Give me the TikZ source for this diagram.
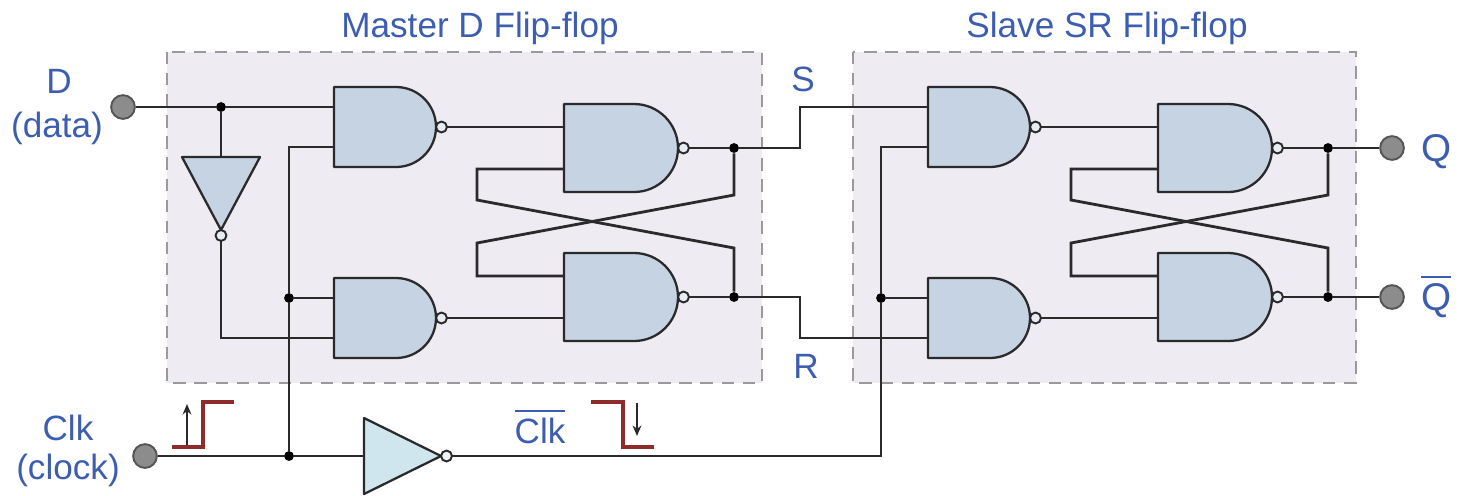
\documentclass[tikz,border=0pt]{standalone}
\usepackage{fontspec}
\setmainfont{Liberation Sans}
\usetikzlibrary{arrows.meta}
\definecolor{lbl}{HTML}{3C5DB0}
\definecolor{boxfill}{HTML}{EEEBF3}
\definecolor{boxline}{HTML}{9A9A9A}
\definecolor{gatefill}{HTML}{C5D3E3}
\definecolor{invfill}{HTML}{CFE6EE}
\definecolor{wire}{HTML}{2A2A2A}
\definecolor{edgecol}{HTML}{8E2B2B}
\definecolor{termfill}{HTML}{8C8C8C}
\newcommand{\barlabel}[1]{\mbox{\vbox{\hrule height 1.1pt\kern 3pt\hbox{#1}}}}
\tikzset{
  wirestyle/.style={draw=wire, line width=1.6pt, line join=miter},
  gatestyle/.style={draw=wire, line width=1.3pt, fill=gatefill, line join=round},
  bubble/.style={draw=wire, line width=1.1pt, fill=gatefill!40!white},
  boxstyle/.style={draw=boxline, fill=boxfill, line width=1.4pt, dash pattern=on 7pt off 5pt},
  term/.style={circle, draw=wire!80, fill=termfill, line width=1.1pt, minimum size=13.5pt, inner sep=0pt},
  jdot/.style={circle, fill=black, minimum size=5.6pt, inner sep=0pt},
  lbl/.style={text=lbl, font=\fontsize{20}{24}\selectfont, inner sep=0pt, anchor=base},
  qlbl/.style={text=lbl, font=\fontsize{22}{26}\selectfont, inner sep=0pt, anchor=base west},
  edgestyle/.style={draw=edgecol, line width=1.8pt},
  arrowstyle/.style={draw=wire, line width=1pt, -{Stealth[length=6pt,width=5pt]}},
  smallnand/.pic={
    \path[gatestyle] (0,-40) -- (62,-40) .. controls (84.1,-40) and (102,-22.1) .. (102,0)
       .. controls (102,22.1) and (84.1,40) .. (62,40) -- (0,40) -- cycle;
    \path[bubble] (107.5,0) circle[radius=3.1pt];
    \coordinate (-in1) at (0,-20);
    \coordinate (-in2) at (0,20);
    \coordinate (-out) at (113,0);
  },
  bignand/.pic={
    \path[gatestyle] (0,-44) -- (70,-44) .. controls (94.3,-44) and (114,-24.3) .. (114,0)
       .. controls (114,24.3) and (94.3,44) .. (70,44) -- (0,44) -- cycle;
    \path[bubble] (119.5,0) circle[radius=3.1pt];
    \coordinate (-in1) at (0,-21);
    \coordinate (-in2) at (0,21);
    \coordinate (-out) at (125,0);
  },
  invdown/.pic={
    \path[gatestyle] (-39,0) -- (39,0) -- (0,73) -- cycle;
    \path[bubble] (0,78.5) circle[radius=3.1pt];
    \coordinate (-in) at (0,0);
    \coordinate (-out) at (0,84);
  },
  invright/.pic={
    \path[gatestyle, fill=invfill] (0,-38) -- (0,38) -- (77,0) -- cycle;
    \path[bubble, fill=invfill!40!white] (82.5,0) circle[radius=3.1pt];
    \coordinate (-in) at (0,0);
    \coordinate (-out) at (88,0);
  },
}
\begin{document}
\begin{tikzpicture}[x=0.02cm,y=-0.02cm]
\useasboundingbox (0,0) rectangle (1459,495);
% boxes
\path[boxstyle] (167,52) rectangle (762,383);
\path[boxstyle] (853,52) rectangle (1356,383);
% gates
\pic (G1) at (334,127) {smallnand};
\pic (G2) at (334,318) {smallnand};
\pic (G3) at (564,148) {bignand};
\pic (G4) at (564,297) {bignand};
\pic (G5) at (928,127) {smallnand};
\pic (G6) at (928,318) {smallnand};
\pic (G7) at (1158,148) {bignand};
\pic (G8) at (1158,297) {bignand};
\pic (ND) at (221,157) {invdown};
\pic (CI) at (364,456) {invright};
% terminals
\node[term] (Din) at (123,107) {};
\node[term] (Clkin) at (145,456) {};
\node[term] (Qout) at (1392,148) {};
\node[term] (Qbout) at (1392,297) {};
% junctions
\node[jdot] (J0) at (221,107) {};
\node[jdot] (Jc) at (289,456) {};
\node[jdot] (Jc2) at (289,298) {};
\node[jdot] (J1) at (734,148) {};
\node[jdot] (J2) at (734,297) {};
\node[jdot] (Js) at (881,298) {};
\node[jdot] (J3) at (1328,148) {};
\node[jdot] (J4) at (1328,297) {};
% master wires
\draw[wirestyle] (Din) -- (J0) -- (G1-in1);
\draw[wirestyle] (J0) -- (ND-in);
\draw[wirestyle] (ND-out) |- (G2-in2);
\draw[wirestyle] (Clkin) -- (Jc) -- (CI-in);
\draw[wirestyle] (Jc) -- (Jc2) |- (G1-in2);
\draw[wirestyle] (Jc2) -- (G2-in1);
\draw[wirestyle] (G1-out) -- (G3-in1);
\draw[wirestyle] (G2-out) -- (G4-in2);
\draw[wirestyle] (G3-out) -- (J1);
\draw[wirestyle] (G4-out) -- (J2);
\draw[wirestyle] (G3-in2) -- (477,169) -- (477,200) -- (734,248) -- (J2);
\draw[wirestyle] (G4-in1) -- (477,276) -- (477,243) -- (734,195) -- (J1);
% S and R
\draw[wirestyle] (J1) -- (800,148) |- (G5-in1);
\draw[wirestyle] (J2) -- (800,297) |- (G6-in2);
% clock bar
\draw[wirestyle] (CI-out) -| (Js) |- (G5-in2);
\draw[wirestyle] (Js) -- (G6-in1);
% slave wires
\draw[wirestyle] (G5-out) -- (G7-in1);
\draw[wirestyle] (G6-out) -- (G8-in2);
\draw[wirestyle] (G7-out) -- (J3) -- (Qout);
\draw[wirestyle] (G8-out) -- (J4) -- (Qbout);
\draw[wirestyle] (G7-in2) -- (1071,169) -- (1071,200) -- (1328,248) -- (J4);
\draw[wirestyle] (G8-in1) -- (1071,276) -- (1071,243) -- (1328,195) -- (J3);
% clock edges
\draw[edgestyle] (172,447) -- (203,447) -- (203,402) -- (234,402);
\draw[arrowstyle] (187,445) -- (187,404);
\draw[edgestyle] (591,402) -- (623,402) -- (623,447) -- (654,447);
\draw[arrowstyle] (637,403) -- (637,436);
% labels
\node[lbl] (tm) at (480,37) {Master D Flip-flop};
\node[lbl] (ts) at (1107,37) {Slave SR Flip-flop};
\node[lbl] (lS) at (803,91) {S};
\node[lbl] (lR) at (806,378) {R};
\node[lbl] (lD) at (59,93) {D};
\node[lbl] (ldata) at (57,137) {(data)};
\node[lbl] (lclk) at (68,440) {Clk};
\node[lbl] (lclock) at (68,479) {(clock)};
\node[lbl] (lclkb) at (540,443) {\barlabel{Clk}};
\node[qlbl] (lQ) at (1421,161) {Q};
\node[qlbl] (lQb) at (1421,310) {\barlabel{Q}};
\end{tikzpicture}
\end{document}
